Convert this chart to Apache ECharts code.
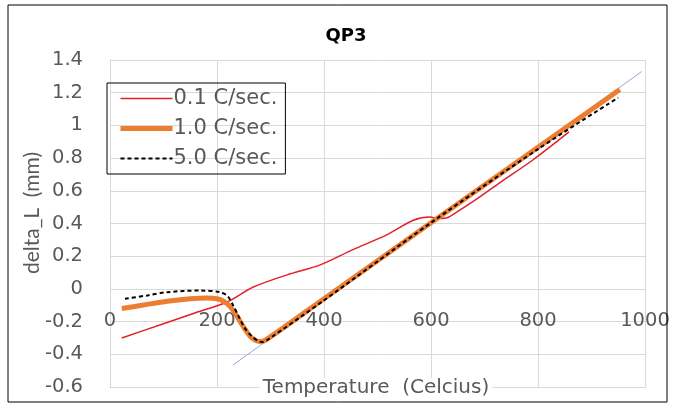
<!DOCTYPE html>
<html>
<head>
<meta charset="utf-8">
<script src="https://cdn.jsdelivr.net/npm/echarts@6/dist/echarts.min.js"></script>
<style>
  html, body { margin: 0; padding: 0; background: #fff; }
  #chart { width: 673px; height: 407px; }
</style>
</head>
<body>
<div id="chart"></div>
<script>
// 0.1 C/sec.
const slowT = [22, 100, 160, 219, 267, 331, 393, 454, 517, 567, 598, 613, 630, 648, 690, 729, 791, 858]
const slowL = [-0.30, -0.213, -0.146, -0.08, 0.01, 0.086, 0.147, 0.24, 0.33, 0.42, 0.44, 0.43, 0.435, 0.47, 0.56, 0.65, 0.79, 0.96]
// 1.0 C/sec.
const midT = [22, 60, 107, 150, 181, 200, 212, 225, 237, 249, 262, 272, 280, 290, 400, 600, 800, 953]
const midL = [-0.12, -0.10, -0.075, -0.06, -0.055, -0.06, -0.075, -0.11, -0.165, -0.23, -0.29, -0.315, -0.322, -0.315, -0.06, 0.405, 0.866, 1.22]
// 5.0 C/sec.
const fastT = [28, 70, 107, 168, 206, 220, 230, 240, 252, 265, 278, 285, 295, 400, 600, 800, 950]
const fastL = [-0.06, -0.04, -0.02, -0.01, -0.02, -0.045, -0.1, -0.165, -0.24, -0.29, -0.32, -0.325, -0.31, -0.07, 0.405, 0.855, 1.17]
// thin reference line
const refT = [230, 994]
const refL = [-0.465, 1.33]

const seriesNames = ['0.1 C/sec.', '1.0 C/sec.', '5.0 C/sec.']
const seriesColors = ['#e3202b', '#ed7d31', '#000']
const seriesWidths = [1.5, 5, 2]

const zip = (xs, ys) => xs.map((x, i) => [x, ys[i]])
const txt = '#595959'
const gridCol = '#d9d9d9'
const font = '"DejaVu Sans", sans-serif'
const narrow = 'Lato, sans-serif'

const chart = echarts.init(document.getElementById('chart'))
chart.setOption({
  animation: false,
  grid: { left: 110, right: 28, top: 60, bottom: 20, containLabel: false, outerBoundsMode: 'none' },
  xAxis: {
    type: 'value',
    min: 0,
    max: 1000,
    interval: 200,
    // labels sit just under the zero line, as in the original
    axisLine: { onZero: false, lineStyle: { color: gridCol } },
    axisTick: { show: false },
    axisLabel: { color: txt, fontSize: 19.5, fontFamily: font, margin: -76, formatter: v => String(v) },
    splitLine: { lineStyle: { color: gridCol } }
  },
  yAxis: {
    type: 'value',
    min: -0.6,
    max: 1.4,
    interval: 0.2,
    axisLine: { show: true, onZero: false, lineStyle: { color: gridCol } },
    axisTick: { show: false },
    axisLabel: {
      color: txt, fontSize: 19.5, fontFamily: font, margin: 27,
      formatter: v => String(Math.round(v * 10) / 10)
    },
    splitLine: { lineStyle: { color: gridCol } }
  },
  legend: {
    data: seriesNames.map((n, i) => ({ name: n, lineStyle: { width: seriesWidths[i] } })),
    orient: 'vertical',
    left: 107,
    top: 83,
    padding: [5, 8, 5, 11],
    itemWidth: 52,
    itemHeight: 14,
    itemGap: 9,
    borderColor: '#000',
    borderWidth: 1,
    itemStyle: { opacity: 0 },
    textStyle: { color: txt, fontSize: 21, fontFamily: font, padding: [0, 0, 0, -4] }
  },
  graphic: [
    { type: 'rect', shape: { x: 8, y: 5, width: 659, height: 397 }, style: { fill: 'none', stroke: '#000', lineWidth: 1 }, z: 100 },
    { type: 'text', x: 346, y: 36, style: { text: 'QP3', fill: '#000', font: 'bold 18px ' + font, textAlign: 'center', textVerticalAlign: 'middle' } },
    {
      type: 'text', x: 376, y: 388, z: 50,
      style: { text: 'Temperature  (Celcius)', fill: txt, font: '20px ' + font, textAlign: 'center', textVerticalAlign: 'middle', backgroundColor: '#fff', padding: [0, 3] }
    },
    { type: 'text', x: 32, y: 213, rotation: Math.PI / 2, style: { text: 'delta_L  (mm)', fill: txt, font: '21px ' + narrow, textAlign: 'center', textVerticalAlign: 'middle' } }
  ],
  series: [
    {
      name: 'ref', type: 'line', data: zip(refT, refL), symbol: 'none',
      lineStyle: { color: '#8faadc', width: 1 }, z: 1
    },
    {
      name: seriesNames[0], type: 'line', data: zip(slowT, slowL), symbol: 'none', smooth: 0.3,
      itemStyle: { color: seriesColors[0] }, lineStyle: { color: seriesColors[0], width: seriesWidths[0] }, z: 2
    },
    {
      name: seriesNames[1], type: 'line', data: zip(midT, midL), symbol: 'none', smooth: 0.3,
      itemStyle: { color: seriesColors[1] }, lineStyle: { color: seriesColors[1], width: seriesWidths[1] }, z: 3
    },
    {
      name: seriesNames[2], type: 'line', data: zip(fastT, fastL), symbol: 'none', smooth: 0.3,
      itemStyle: { color: seriesColors[2] }, lineStyle: { color: seriesColors[2], width: seriesWidths[2], type: [4, 3] }, z: 4
    }
  ]
})
</script>
</body>
</html>
